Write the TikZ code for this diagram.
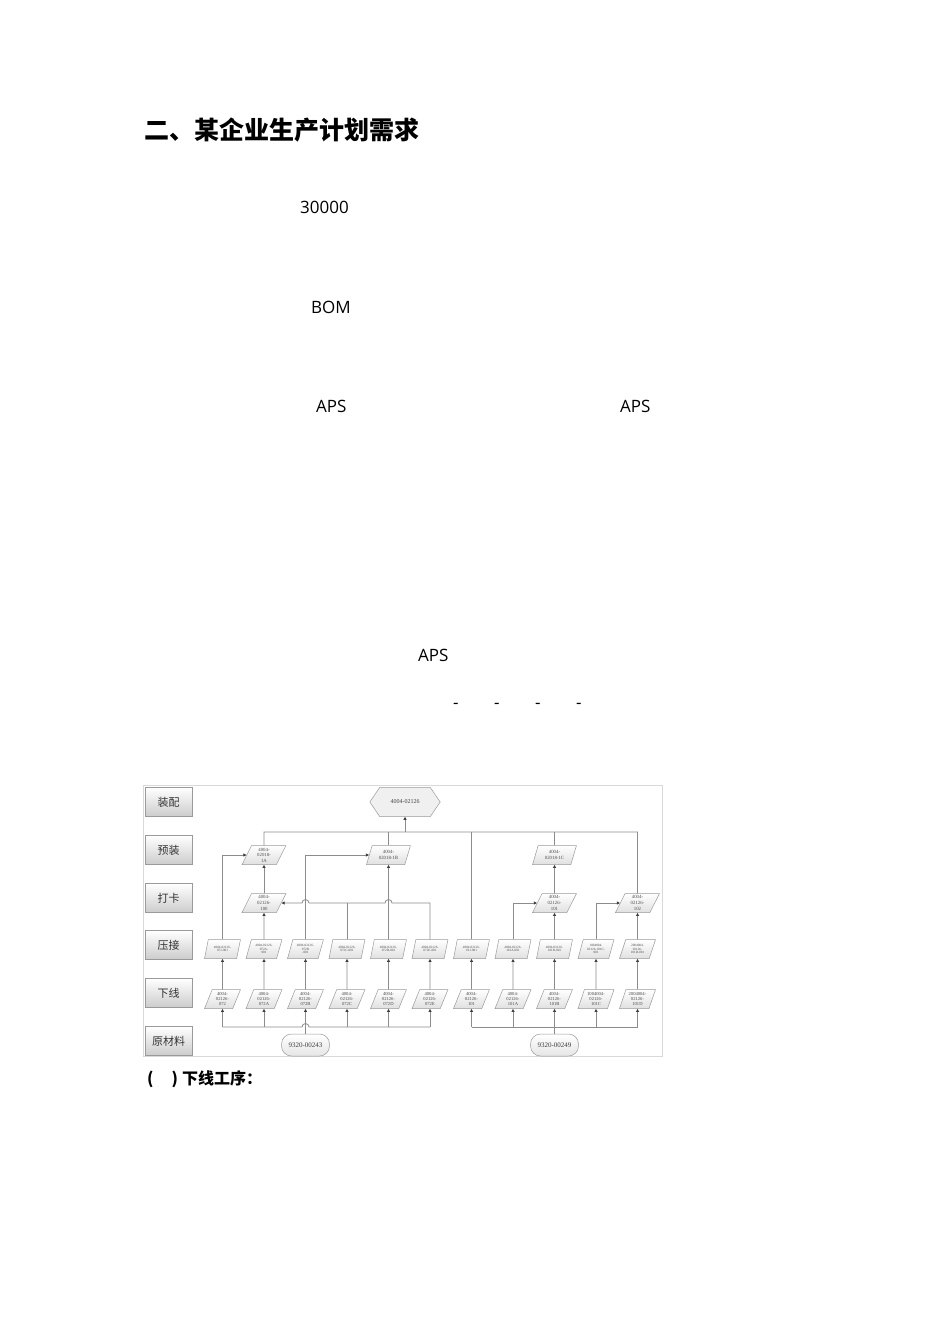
\documentclass[tikz,border=0pt]{standalone}
\usepackage{fontspec}
\setmainfont{Open Sans}
\newfontfamily\cjk{Noto Sans CJK SC}
\newfontfamily\dgm{Liberation Serif}
\usetikzlibrary{shapes.geometric,arrows.meta}
\definecolor{lnc}{HTML}{8C8C8C}
\definecolor{bdc}{HTML}{9A9A9A}
\begin{document}
\begin{tikzpicture}[x=1pt,y=-1pt,
  body/.style={anchor=west,inner sep=0pt,font=\fontsize{17}{20}\selectfont},
  ln/.style={draw=lnc,line width=0.8pt},
  arr/.style={ln,-{Triangle[length=3.2pt,width=3pt,color=black!75]}},
  para/.style={trapezium,trapezium left angle=70,trapezium right angle=110,
    trapezium stretches=true,
    draw=bdc,line width=0.5pt,top color=white,bottom color=black!12,
    minimum height=19pt,minimum width=36pt,inner sep=0.2pt,align=center,
    text=black!70,font=\dgm\fontsize{3.3}{3.8}\selectfont},
  wpara/.style={para,font=\dgm\fontsize{4.6}{5.2}\selectfont},
  bpara/.style={para,minimum width=44pt,font=\dgm\fontsize{4.8}{5.6}\selectfont},
  lbl/.style={draw=bdc,line width=0.5pt,top color=white,bottom color=black!20,
    minimum width=47pt,minimum height=29pt,inner sep=0pt,
    font=\cjk\fontsize{11}{12}\selectfont,text=black!80},
  raw/.style={draw=bdc,line width=0.5pt,rounded corners=10pt,top color=white,
    bottom color=black!10,minimum width=48pt,minimum height=22pt,inner sep=0pt,
    font=\dgm\fontsize{7}{8}\selectfont,text=black!75}
]
\useasboundingbox[fill=white] (0,0) rectangle (950,1344);

% ---- page text ----
\node[anchor=west,inner sep=0pt,font=\cjk\bfseries\fontsize{25}{30}\selectfont] (title) at (144,130) {二、某企业生产计划需求};
\node[body] (t1) at (300,207) {30000};
\node[body] (t2) at (311,307) {BOM};
\node[body] (t3) at (316,406) {APS};
\node[body] (t4) at (620,406) {APS};
\node[body] (t5) at (418,655) {APS};
\node[body] (d1) at (453,706) {-};
\node[body] (d2) at (494,706) {-};
\node[body] (d3) at (535,706) {-};
\node[body] (d4) at (576,706) {-};
\node[anchor=west,inner sep=0pt,font=\cjk\bfseries\fontsize{16}{18}\selectfont] (sub) at (147,1079) {(\hspace{18pt})\hspace{4pt}下线工序：};

% ---- diagram frame ----
\draw[draw=black!15,line width=0.6pt] (143,785) rectangle (662,1056);

% ---- row labels ----
\node[lbl] (r1) at (168.5,802) {装配};
\node[lbl] (r2) at (168.5,850) {预装};
\node[lbl] (r3) at (168.5,898) {打卡};
\node[lbl] (r4) at (168.5,945) {压接};
\node[lbl] (r5) at (168.5,993) {下线};
\node[lbl] (r6) at (168.5,1041) {原材料};

% ---- top hexagon ----
\node[minimum width=70pt,minimum height=29pt,inner sep=0pt] (hex) at (405,802) {};
\path[draw=bdc,line width=0.5pt,fill=black!6] (hex.west) -- ([xshift=10pt]hex.north west) -- ([xshift=-10pt]hex.north east)
  -- (hex.east) -- ([xshift=-10pt]hex.south east) -- ([xshift=10pt]hex.south west) -- cycle;
\node[font=\dgm\fontsize{6}{7}\selectfont,text=black!75] (hext) at (hex.center) {4004-02126};

% ---- pre-assembly and card rows ----
\node[bpara] (pA) at (264,855) {4004-\\02018-\\1A};
\node[bpara] (pB) at (388.5,855) {4004-\\02018-1B};
\node[bpara] (pC) at (554.5,855) {4004-\\02018-1C};
\node[bpara] (k0) at (264,903) {4004-\\02126-\\100};
\node[bpara] (k1) at (554.5,903) {4004-\\02126-\\101};
\node[bpara] (k2) at (637.5,903) {4004-\\02126-\\102};

% ---- crimp row ----
\foreach \t [count=\i] in {4004-02126-\\072-001,4004-02126-\\072A-\\001,4004-02126-\\072B\\-001,4004-02126-\\072C-001,4004-02126-\\072D-001,4004-02126-\\072E-001,4004-02126-\\101-001,4004-02126-\\101A-001,4004-02126-\\101B-001,1004004-\\02126-101C-\\001,2004004-\\02126-\\101D-001}
  \node[para] (c\i) at ({222.5+41.5*(\i-1)},949) {\t};

% ---- wire row ----
\foreach \t [count=\i] in {4004-\\02126-\\072,4004-\\02126-\\072A,4004-\\02126-\\072B,4004-\\02126-\\072C,4004-\\02126-\\072D,4004-\\02126-\\072E,4004-\\02126-\\101,4004-\\02126-\\101A,4004-\\02126-\\101B,1004004-\\02126-\\101C,2004004-\\02126-\\101D}
  \node[wpara] (w\i) at ({222.5+41.5*(\i-1)},999) {\t};

% ---- raw materials ----
\node[raw] (e1) at (305.5,1045) {9320-00243};
\node[raw] (e2) at (554.5,1045) {9320-00249};

% ---- connectors: raw -> wire ----
\coordinate (bL) at (222.5,1027);
\coordinate (bR) at (637.5,1027);
\draw[arr] (e1.north) -- (w3.south);
\draw[ln] (bL) -- (302,1027) arc[start angle=180,end angle=360,radius=3.5] -- (430,1027);
\foreach \i in {1,2,4,5,6} \draw[arr] (w\i.south |- bL) -- (w\i.south);
\draw[arr] (e2.north) -- (w9.south);
\draw[ln] (471.5,1027) -- (bR);
\foreach \i in {7,8,10,11} \draw[arr] (w\i.south |- bR) -- (w\i.south);

% ---- wire -> crimp ----
\foreach \i in {1,...,11} \draw[arr] (w\i.north) -- (c\i.south);

% ---- crimp -> upper levels (left) ----
\draw[arr] (c1.north) |- (pA.west);
\draw[arr] (c2.north) -- (k0.south);
\draw[arr] (k0.north) -- (pA.south);
\draw[arr] (c3.north) |- (pB.west);
\draw[arr] (c5.north) -- (pB.south);
\draw[arr] (c6.north) -- (430,903) -- (392,903) arc[start angle=0,end angle=-180,radius=3.5]
  -- (309,903) arc[start angle=0,end angle=-180,radius=3.5] -- (k0.east);
\draw[ln] (c4.north) -- (c4.north |- k0.east);

% ---- crimp -> upper levels (right) ----
\draw[arr] (c8.north) |- (k1.west);
\draw[arr] (c9.north) -- (k1.south);
\draw[arr] (k1.north) -- (pC.south);
\draw[arr] (c10.north) |- (k2.west);
\draw[arr] (c11.north) -- (k2.south);

% ---- top bus to final assembly ----
\coordinate (tL) at (264,832);
\coordinate (tR) at (637.5,832);
\draw[ln] (pA.north) -- (tL) -- (tR) -- (k2.north);
\draw[ln] (pB.north) -- (pB.north |- tL);
\draw[ln] (pC.north) -- (pC.north |- tL);
\draw[ln] (c7.north) -- (c7.north |- tL);
\draw[arr] (hex.south |- tL) -- (hex.south);
\end{tikzpicture}
\end{document}
